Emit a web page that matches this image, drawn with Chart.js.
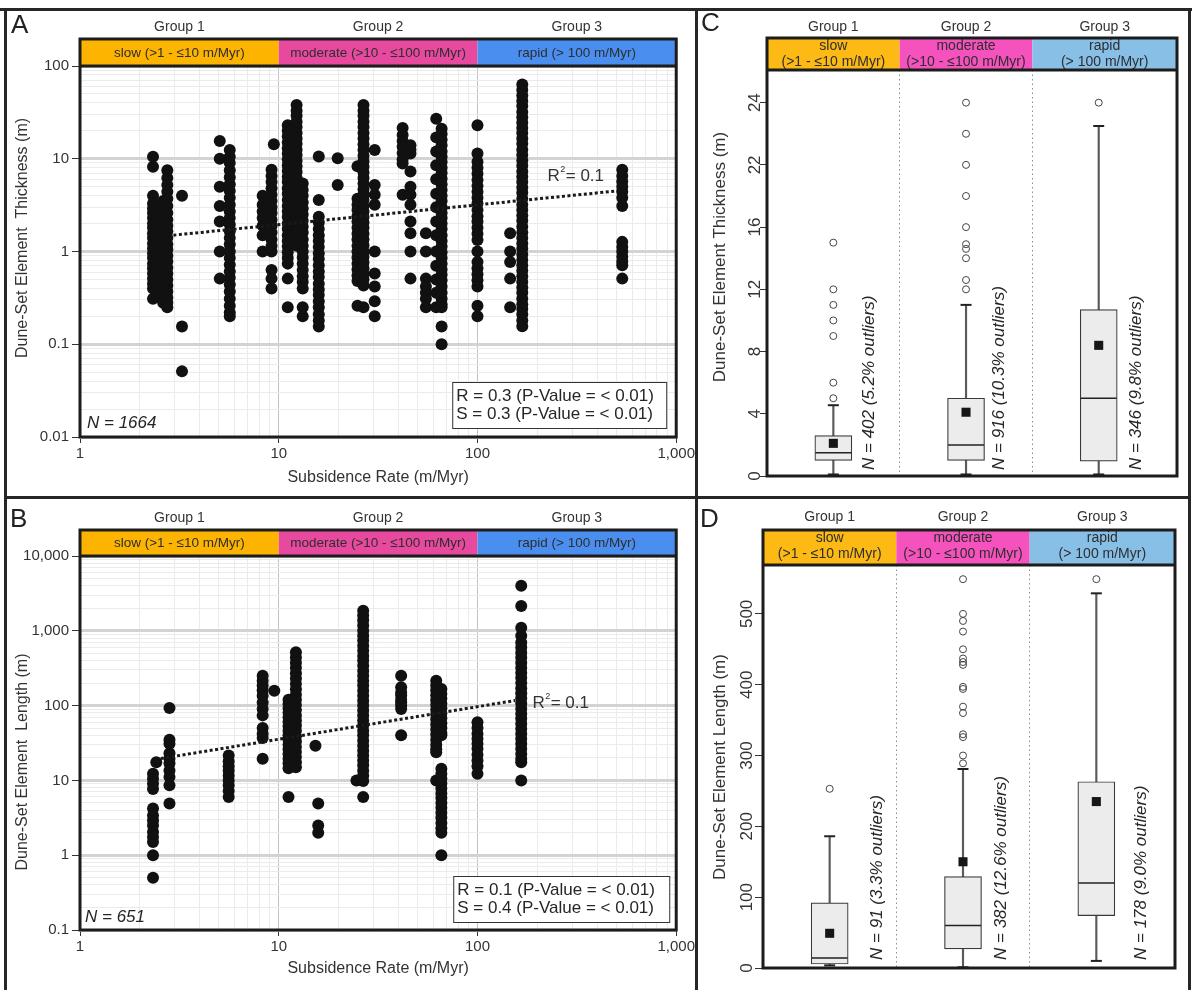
<!DOCTYPE html>
<html>
<head>
<meta charset="utf-8">
<title>Dune-set element size vs subsidence rate</title>
<script src="https://cdn.jsdelivr.net/npm/chart.js@4.4.1/dist/chart.umd.min.js"></script>
<style>
  html, body { margin: 0; padding: 0; background: #fff; }
  #fig { position: relative; width: 1192px; height: 990px; overflow: hidden; background: #fff;
         font-family: "Liberation Sans", Arial, Helvetica, sans-serif; }
  #fig canvas { position: absolute; }
  .rule { position: absolute; background: #262626; }
  .letter { position: absolute; font-size: 26px; line-height: 26px; color: #222; }
</style>
</head>
<body>
<div id="fig">
  <canvas id="panelA" width="697" height="496" style="left:0;top:0"></canvas>
  <canvas id="panelB" width="697" height="494" style="left:0;top:496px"></canvas>
  <canvas id="panelC" width="495" height="497" style="left:697px;top:0"></canvas>
  <canvas id="panelD" width="495" height="493" style="left:697px;top:497px"></canvas>

  <div class="rule" style="left:0;top:8px;width:1192px;height:3px"></div>
  <div class="rule" style="left:4px;top:8px;width:3px;height:982px"></div>
  <div class="rule" style="left:1188px;top:8px;width:3px;height:982px"></div>
  <div class="rule" style="left:695px;top:8px;width:3px;height:982px"></div>
  <div class="rule" style="left:4px;top:496px;width:1187px;height:3px"></div>

  <div class="letter" style="left:11px;top:11px">A</div>
  <div class="letter" style="left:10px;top:505px">B</div>
  <div class="letter" style="left:701px;top:9px">C</div>
  <div class="letter" style="left:700px;top:505px">D</div>
</div>

<script>
// ---------------- shared category data ----------------
const groupNames = ['Group 1', 'Group 2', 'Group 3'];
const bandLabelsWide = ['slow (>1 - \u226410 m/Myr)', 'moderate (>10 - \u2264100 m/Myr)', 'rapid (> 100 m/Myr)'];
const bandNames = ['slow', 'moderate', 'rapid'];
const bandRanges = ['(>1 - \u226410 m/Myr)', '(>10 - \u2264100 m/Myr)', '(> 100 m/Myr)'];

// ---------------- axis ticks ----------------
const rateTicks = [1, 10, 100, 1000];
const rateTickLabels = ['1', '10', '100', '1,000'];
const thickTicks = [0.01, 0.1, 1, 10, 100];
const thickTickLabels = ['0.01', '0.1', '1', '10', '100'];
const lengthTicks = [0.1, 1, 10, 100, 1000, 10000];
const lengthTickLabels = ['0.1', '1', '10', '100', '1,000', '10,000'];
const thickBoxTicks = [0, 4, 8, 12, 16, 20, 24];
const thickBoxTickLabels = ['0', '4', '8', '12', '16', '22', '24'];
const lengthBoxTicks = [0, 100, 200, 300, 400, 500];
const lengthBoxTickLabels = ['0', '100', '200', '300', '400', '500'];

// ---------------- panel A: thickness (m) per subsidence rate (m/Myr) ----------------
const thickRates = [2.33, 2.45, 2.62, 2.75, 3.26, 5.05, 5.67, 8.3, 9.2, 9.45, 11.1, 12.3, 13.2, 15.9,
                    19.8, 24.9, 26.7, 30.4, 42, 46, 55, 62, 66, 100, 146, 168, 535];
const thickColumns = [
  [10.5, 8.2, 4.0, 3.3, 2.9, 2.6, 2.3, 2.0, 1.8, 1.57, 1.4, 1.22, 1.08, 0.95, 0.85, 0.74, 0.66, 0.58, 0.51, 0.45, 0.4, 0.31],
  [3.0, 2.2, 1.6, 1.2, 0.9, 0.7, 0.55, 0.42, 0.35],
  [3.5, 2.4, 1.8, 1.3, 1.0, 0.75, 0.55, 0.45, 0.35, 0.28],
  [7.5, 6.2, 5.2, 4.4, 3.7, 3.1, 2.6, 2.2, 1.9, 1.65, 1.4, 1.2, 1.05, 0.9, 0.78, 0.67, 0.58, 0.5, 0.43, 0.37, 0.32, 0.28, 0.25],
  [4.0, 0.155, 0.051],
  [15.5, 10, 5.0, 3.1, 2.1, 1.0, 0.51],
  [12.4, 10.5, 9.0, 7.5, 6.3, 5.3, 4.5, 3.8, 3.2, 2.7, 2.3, 1.95, 1.65, 1.4, 1.2, 1.0, 0.85, 0.72, 0.61, 0.52, 0.44, 0.37, 0.31, 0.26, 0.22, 0.2],
  [4.0, 3.2, 2.7, 2.3, 1.9, 1.5, 1.0],
  [7.6, 6.5, 5.6, 4.8, 4.1, 3.5, 3.0, 2.6, 2.2, 1.9, 1.6, 1.35, 1.15, 1.0, 0.63, 0.51, 0.4],
  [14.3],
  [23, 20, 17.5, 15, 13, 11.3, 9.8, 8.5, 7.4, 6.4, 5.6, 4.8, 4.2, 3.6, 3.1, 2.7, 2.35, 2.0, 1.75, 1.5, 1.3, 1.13, 0.98, 0.85, 0.74, 0.51, 0.25],
  [38, 33, 29, 25, 22, 19, 16.5, 14.5, 12.5, 11, 9.5, 8.3, 7.2, 6.2, 5.4, 4.7, 4.1, 3.5, 3.0, 2.6, 2.3, 2.0, 1.7, 1.5, 1.3, 1.15],
  [5.4, 4.6, 4.0, 3.4, 2.9, 2.5, 2.15, 1.85, 1.6, 1.35, 1.15, 1.0, 0.86, 0.74, 0.63, 0.54, 0.47, 0.4, 0.25, 0.2],
  [10.6, 3.6, 2.37, 2.05, 1.75, 1.5, 1.3, 1.12, 0.96, 0.83, 0.71, 0.61, 0.53, 0.45, 0.39, 0.34, 0.29, 0.25, 0.21, 0.18, 0.155],
  [10.1, 5.2],
  [8.3, 3.7, 3.2, 2.8, 2.4, 2.1, 1.8, 1.55, 1.35, 1.15, 1.0, 0.86, 0.74, 0.64, 0.55, 0.48, 0.26],
  [38, 33, 29, 25, 22, 19, 16.5, 14.3, 12.4, 10.8, 9.4, 8.2, 7.1, 6.2, 5.4, 4.7, 4.1, 3.6, 3.1, 2.7, 2.35, 2.05, 1.8, 1.55, 1.35, 1.17, 1.0, 0.87, 0.76, 0.66, 0.57, 0.5, 0.43, 0.25],
  [12.4, 5.2, 4.1, 3.2, 1.0, 0.58, 0.42, 0.29, 0.2],
  [21.4, 18, 15.5, 13.5, 11.5, 9.8, 8.9, 4.1],
  [14, 12.5, 11.4, 7.3, 5.0, 4.1, 3.2, 2.1, 1.57, 1.0, 0.51],
  [1.57, 1.0, 0.51, 0.42, 0.36, 0.31, 0.25],
  [27, 17, 12, 8.5, 6.0, 4.2, 3.0, 2.1, 1.5, 1.0, 0.7, 0.5, 0.36, 0.25],
  [21, 18.5, 16, 14, 12, 10.5, 9.2, 8.0, 7.0, 6.1, 5.3, 4.6, 4.0, 3.5, 3.0, 2.6, 2.3, 2.0, 1.75, 1.5, 1.3, 1.13, 0.98, 0.85, 0.74, 0.64, 0.56, 0.49, 0.42, 0.36, 0.31, 0.27, 0.25, 0.155, 0.1],
  [23, 11.4, 9.3, 8.0, 6.9, 5.9, 5.1, 4.4, 3.8, 3.3, 2.8, 2.4, 2.1, 1.8, 1.55, 1.33, 1.0, 0.77, 0.66, 0.57, 0.49, 0.42, 0.26, 0.2],
  [1.57, 1.0, 0.77, 0.51, 0.25],
  [63, 55, 48, 42, 37, 32, 28, 24.5, 21.5, 19, 16.5, 14.5, 12.5, 11, 9.6, 8.4, 7.3, 6.4, 5.6, 4.9, 4.3, 3.7, 3.2, 2.8, 2.45, 2.15, 1.85, 1.6, 1.4, 1.22, 1.07, 0.93, 0.81, 0.71, 0.62, 0.54, 0.47, 0.41, 0.36, 0.31, 0.27, 0.24, 0.21, 0.18, 0.156],
  [7.6, 6.5, 5.7, 5.0, 4.4, 3.8, 3.1, 1.27, 1.12, 1.0, 0.88, 0.78, 0.71, 0.51]
];
const thickTrend = [{ x: 2.95, y: 1.5 }, { x: 505, y: 4.5 }];
const thickStats = ['R = 0.3 (P-Value = < 0.01)', 'S = 0.3 (P-Value = < 0.01)'];

// ---------------- panel B: length (m) per subsidence rate (m/Myr) ----------------
const lengthRates = [2.33, 2.42, 2.82, 5.6, 8.3, 9.5, 11.2, 12.2, 15.3, 15.8, 24.6, 26.6, 41.3, 62, 65.8, 100, 166];
const lengthColumns = [
  [12.3, 10.5, 9.0, 7.7, 4.2, 3.4, 2.9, 2.5, 2.05, 1.75, 1.5, 1.0, 0.5],
  [17.5],
  [93, 35, 31, 23, 19.5, 17, 13.6, 11.1, 8.6, 4.9],
  [21.5, 18, 15.5, 13.5, 11.5, 10, 8.6, 7.2, 6.0],
  [250, 215, 185, 160, 135, 110, 90, 74, 50, 42, 37, 19.5],
  [158],
  [120, 105, 92, 80, 70, 61, 53, 46, 40, 35, 30, 26, 22.5, 19.5, 17, 14.5, 6.0],
  [515, 440, 375, 320, 270, 230, 195, 165, 140, 120, 102, 87, 74, 63, 54, 46, 39, 33, 28, 24, 20.5, 17.5, 15],
  [29],
  [4.9, 2.5, 2.0],
  [10],
  [1850, 1600, 1380, 1180, 1000, 860, 740, 630, 540, 460, 400, 340, 290, 250, 215, 185, 158, 135, 116, 100, 86, 74, 63, 54, 46, 40, 34, 29, 25, 21.5, 18.5, 16, 13.5, 11.5, 9.8, 6.0],
  [250, 176, 150, 136, 120, 111, 100, 90, 40],
  [215, 185, 160, 138, 118, 102, 88, 76, 65, 56, 48, 41, 35, 30, 26, 23.8, 10],
  [167, 144, 124, 107, 92, 79, 68, 58, 50, 43, 40, 14.3, 12.3, 10.6, 9.1, 7.8, 6.7, 5.8, 5.0, 4.3, 3.7, 3.2, 2.7, 2.3, 2.0, 1.0],
  [60, 50, 42, 36, 31, 26.5, 22, 18.5, 15.5, 12.3],
  [4000, 2150, 1100, 860, 700, 600, 510, 440, 375, 320, 275, 235, 200, 170, 146, 125, 107, 91, 78, 67, 57, 49, 42, 36, 31, 26.5, 22.5, 19.5, 17.5, 10]
];
const lengthTrend = [{ x: 2.55, y: 19.6 }, { x: 155, y: 117 }];
const lengthStats = ['R = 0.1 (P-Value = < 0.01)', 'S = 0.4 (P-Value = < 0.01)'];

// ---------------- panel C: thickness box plots per group ----------------
const groupPos = [0.5, 1.5, 2.5];
const thickQ1 = [1.0, 1.0, 0.95];
const thickMedian = [1.5, 2.0, 5.0];
const thickQ3 = [2.6, 5.0, 10.7];
const thickMean = [2.1, 4.1, 8.4];
const thickWhiskerLow = [0.1, 0.1, 0.1];
const thickWhiskerHigh = [4.55, 11.0, 22.5];
const thickOutliers = [
  [5, 6, 9, 10, 11, 12, 15],
  [12, 12.6, 14, 14.6, 14.9, 16, 18, 20, 22, 24],
  [24]
];
const thickCounts = ['N = 402 (5.2% outliers)', 'N = 916 (10.3% outliers)', 'N = 346 (9.8% outliers)'];

// ---------------- panel D: length box plots per group ----------------
const lengthQ1 = [5.6, 27, 74];
const lengthMedian = [14, 60, 120];
const lengthQ3 = [92, 129, 263];
const lengthMean = [49, 150, 235];
const lengthWhiskerLow = [3.7, 1, 10];
const lengthWhiskerHigh = [186, 281, 529];
const lengthOutliers = [
  [253],
  [289, 300, 326, 330, 360, 369, 394, 397, 428, 432, 437, 450, 475, 490, 500, 549],
  [549]
];
const lengthCounts = ['N = 91 (3.3% outliers)', 'N = 382 (12.6% outliers)', 'N = 178 (9.0% outliers)'];

// ---------------- helpers ----------------
const FONT = '"Liberation Sans", Arial, Helvetica, sans-serif';
Chart.defaults.font.family = FONT;
Chart.defaults.color = '#333';

function logGrid(decades) {
  const out = [];
  for (let i = 0; i < decades.length - 1; i++) {
    for (let m = 1; m < 10; m++) out.push(Number((decades[i] * m).toPrecision(6)));
  }
  out.push(decades[decades.length - 1]);
  return out;
}
function decadeIndex(v, list) { return list.findIndex(d => Math.abs(v - d) / d < 1e-6); }
function columnPoints(rates, cols) {
  const pts = [];
  rates.forEach((x, i) => cols[i].forEach(y => pts.push({ x, y })));
  return pts;
}

// Header bands, frame, titles and annotation text for each panel
const decorPlugin = {
  id: 'decor',
  afterDraw(chart, _args, o) {
    const ctx = chart.ctx, a = chart.chartArea;
    const xs = chart.scales.x, ys = chart.scales.y;
    const hTop = a.top - o.headerH;
    ctx.save();

    // coloured speed bands + group names
    for (let i = 0; i < o.bandColors.length; i++) {
      const x0 = xs.getPixelForValue(o.bandEdges[i]);
      const x1 = xs.getPixelForValue(o.bandEdges[i + 1]);
      ctx.fillStyle = o.bandColors[i];
      ctx.fillRect(x0, hTop, x1 - x0, o.headerH);
      const cx = (x0 + x1) / 2;
      ctx.fillStyle = '#2e2e2e';
      ctx.textAlign = 'center';
      ctx.textBaseline = 'middle';
      ctx.font = o.bandSize + 'px ' + FONT;
      o.bandText[i].forEach((t, k) => ctx.fillText(t, cx, hTop + o.bandLineY[k]));
      ctx.fillStyle = '#333';
      ctx.font = o.groupSize + 'px ' + FONT;
      ctx.fillText(groupNames[i], cx, o.groupY);
    }

    // thick frame around header and plot
    ctx.strokeStyle = '#1c1c1c';
    ctx.lineWidth = 3;
    ctx.strokeRect(a.left, hTop, a.right - a.left, a.bottom - hTop);
    ctx.beginPath();
    ctx.moveTo(a.left, a.top);
    ctx.lineTo(a.right, a.top);
    ctx.stroke();

    // vertical axis title
    ctx.save();
    ctx.translate(o.yTitle.x, o.yTitle.y);
    ctx.rotate(-Math.PI / 2);
    ctx.fillStyle = '#333';
    ctx.textAlign = 'center';
    ctx.textBaseline = 'middle';
    ctx.font = o.yTitle.size + 'px ' + FONT;
    ctx.fillText(o.yTitle.text, 0, 0);
    ctx.restore();

    // rotated tick labels (box-plot panels)
    if (o.rotTicks) {
      ctx.fillStyle = '#333';
      ctx.font = o.rotTicks.size + 'px ' + FONT;
      ctx.textAlign = 'center';
      ctx.textBaseline = 'middle';
      ys.ticks.forEach(t => {
        const k = o.rotTicks.values.indexOf(t.value);
        if (k < 0) return;
        ctx.save();
        ctx.translate(a.left - o.rotTicks.offset, ys.getPixelForValue(t.value));
        ctx.rotate(-Math.PI / 2);
        ctx.fillText(o.rotTicks.labels[k], 0, 0);
        ctx.restore();
      });
    }

    // rotated sample-size notes (box-plot panels)
    if (o.counts) {
      ctx.fillStyle = '#262626';
      ctx.font = 'italic 17px ' + FONT;
      ctx.textAlign = 'left';
      ctx.textBaseline = 'middle';
      o.counts.text.forEach((t, i) => {
        ctx.save();
        ctx.translate(xs.getPixelForValue(o.counts.x[i]), a.bottom - o.counts.lift);
        ctx.rotate(-Math.PI / 2);
        ctx.fillText(t, 0, 0);
        ctx.restore();
      });
    }

    // sample count (scatter panels)
    if (o.nText) {
      ctx.fillStyle = '#262626';
      ctx.font = 'italic 17px ' + FONT;
      ctx.textAlign = 'left';
      ctx.textBaseline = 'middle';
      ctx.fillText(o.nText.text, a.left + o.nText.dx, a.bottom + o.nText.dy);
    }

    // correlation box (scatter panels)
    if (o.stats) {
      const s = o.stats;
      const bx = a.right - s.dRight - s.w, by = a.bottom - s.dBottom - s.h;
      ctx.fillStyle = '#fff';
      ctx.fillRect(bx, by, s.w, s.h);
      ctx.strokeStyle = '#333';
      ctx.lineWidth = 1;
      ctx.strokeRect(bx + 0.5, by + 0.5, s.w, s.h);
      ctx.fillStyle = '#262626';
      ctx.font = '17px ' + FONT;
      ctx.textAlign = 'left';
      ctx.textBaseline = 'middle';
      ctx.fillText(s.lines[0], bx + 4, by + 14.5);
      ctx.fillText(s.lines[1], bx + 4, by + 32.5);
    }

    // R-squared label of the trend line
    if (o.r2) {
      const px = xs.getPixelForValue(o.r2.x), py = ys.getPixelForValue(o.r2.y);
      ctx.fillStyle = '#333';
      ctx.textAlign = 'left';
      ctx.textBaseline = 'middle';
      ctx.font = '17px ' + FONT;
      ctx.fillText('R', px, py);
      const w = ctx.measureText('R').width;
      ctx.font = '9px ' + FONT;
      ctx.fillText('2', px + w + 0.5, py - 7);
      ctx.font = '17px ' + FONT;
      ctx.fillText('= 0.1', px + w + 6, py);
    }
    ctx.restore();
  }
};

function logAxis(o) {
  const major = c => c.tick && decadeIndex(c.tick.value, o.decades) >= 0;
  return {
    type: 'logarithmic', position: o.position, min: o.min, max: o.max,
    afterBuildTicks: s => { s.ticks = logGrid(o.decades).map(v => ({ value: v })); },
    afterFit: s => { if (o.width) s.width = o.width; if (o.height) s.height = o.height; },
    ticks: {
      autoSkip: false, maxRotation: 0, minRotation: 0, padding: o.pad, color: '#333',
      font: { size: 15 },
      callback: v => { const k = decadeIndex(v, o.decades); return k < 0 ? '' : o.labels[k]; }
    },
    grid: {
      color: c => major(c) ? o.majorColor : '#ebebeb',
      lineWidth: c => major(c) ? o.majorWidth : 1,
      tickLength: o.tickLength,
      tickColor: c => major(c) ? '#333' : 'rgba(0,0,0,0)',
      tickWidth: 1
    },
    border: { display: false },
    title: o.title
      ? { display: true, text: o.title, color: '#333', font: { size: 16 }, padding: 0 }
      : { display: false }
  };
}

function scatterPanel(id, o) {
  return new Chart(document.getElementById(id), {
    type: 'scatter',
    data: {
      datasets: [
        { data: o.trend, showLine: true, borderColor: '#1a1a1a', borderWidth: 3,
          borderDash: [3, 2.5], pointRadius: 0, order: 0 },
        { data: columnPoints(o.rates, o.cols), pointRadius: 6, pointHoverRadius: 6,
          backgroundColor: '#111', borderWidth: 0, order: 1 }
      ]
    },
    options: {
      responsive: false, animation: false, events: [],
      layout: { autoPadding: false, padding: o.padding },
      plugins: { legend: { display: false }, tooltip: { enabled: false }, decor: o.decor },
      scales: {
        x: logAxis({ position: 'bottom', min: 1, max: 1000, decades: rateTicks, labels: rateTickLabels,
                     height: o.xHeight, pad: 2, tickLength: 6, majorColor: '#c2c2c2', majorWidth: 1,
                     title: 'Subsidence Rate (m/Myr)' }),
        y: logAxis({ position: 'left', min: o.yTicks[0], max: o.yTicks[o.yTicks.length - 1],
                     decades: o.yTicks, labels: o.yLabels, width: 67, pad: 3, tickLength: 8,
                     majorColor: '#d3d3d3', majorWidth: 3 })
      }
    },
    plugins: [decorPlugin]
  });
}

function boxPanel(id, o) {
  const outlierPts = [];
  o.outliers.forEach((list, i) => list.forEach(y => outlierPts.push({ x: groupPos[i], y })));
  const capPts = [];
  groupPos.forEach((x, i) => { capPts.push({ x, y: o.whiskerHigh[i] }); capPts.push({ x, y: o.whiskerLow[i] }); });
  return new Chart(document.getElementById(id), {
    type: 'scatter',
    data: {
      datasets: [
        { data: groupPos.map((x, i) => ({ x, y: o.mean[i] })), pointStyle: 'rect', pointRadius: 6.4,
          backgroundColor: '#161616', borderWidth: 0, order: 0 },
        { data: groupPos.map((x, i) => ({ x, y: o.median[i] })), pointStyle: 'line', pointRadius: 18,
          borderColor: '#222', borderWidth: 1.5, order: 1 },
        { data: outlierPts, pointStyle: 'circle', pointRadius: 3.5, backgroundColor: 'rgba(0,0,0,0)',
          borderColor: '#444', borderWidth: 1, order: 2 },
        { data: capPts, pointStyle: 'line', pointRadius: 5.5, borderColor: '#222', borderWidth: 2, order: 3 },
        { type: 'bar', data: groupPos.map((x, i) => ({ x, y: [o.q1[i], o.q3[i]] })), barThickness: 37,
          backgroundColor: '#ececec', borderColor: '#3a3a3a', borderWidth: 1.2, borderSkipped: false,
          grouped: false, order: 4 },
        { type: 'bar', data: groupPos.map((x, i) => ({ x, y: [o.whiskerLow[i], o.whiskerHigh[i]] })),
          barThickness: 1.5, backgroundColor: '#5a5a5a', borderWidth: 0, grouped: false, order: 5 }
      ]
    },
    options: {
      responsive: false, animation: false, events: [],
      layout: { autoPadding: false, padding: o.padding },
      plugins: { legend: { display: false }, tooltip: { enabled: false }, decor: o.decor },
      scales: {
        x: {
          type: 'linear', min: 0, max: 3.09, offset: false,
          afterBuildTicks: s => { s.ticks = [{ value: 1 }, { value: 2 }]; },
          afterFit: s => { s.height = 0; },
          ticks: { display: false },
          grid: { color: '#8c8c8c', lineWidth: 1, drawTicks: false, offset: false },
          border: { display: false, dash: [1.5, 3] }
        },
        y: {
          type: 'linear', min: 0, max: o.yMax,
          afterBuildTicks: s => { s.ticks = o.ticks.map(v => ({ value: v })); },
          afterFit: s => { s.width = o.yWidth; },
          ticks: { display: false },
          grid: { drawOnChartArea: false, drawTicks: true, tickLength: o.tickLength,
                  tickColor: '#333', tickWidth: 1 },
          border: { display: false }
        }
      }
    },
    plugins: [decorPlugin]
  });
}

const wideBandColors = ['#fdb400', '#e6499e', '#4a8ff0'];
const paleBandColors = ['#fdb914', '#f552be', '#88bfe7'];

// ---------------- A ----------------
scatterPanel('panelA', {
  rates: thickRates, cols: thickColumns, trend: thickTrend,
  yTicks: thickTicks, yLabels: thickTickLabels,
  padding: { left: 13, top: 66, right: 20, bottom: 9 }, xHeight: 50,
  decor: {
    headerH: 27, groupY: 27, groupSize: 14, bandSize: 13.5, bandLineY: [14],
    bandEdges: rateTicks, bandColors: wideBandColors, bandText: bandLabelsWide.map(t => [t]),
    yTitle: { text: 'Dune-Set Element  Thickness (m)', x: 22.6, y: 238, size: 16 },
    nText: { text: 'N = 1664', dx: 7, dy: -14 },
    stats: { lines: thickStats, w: 214, h: 46, dRight: 10, dBottom: 9 },
    r2: { x: 225, y: 6.5 }
  }
});

// ---------------- B ----------------
scatterPanel('panelB', {
  rates: lengthRates, cols: lengthColumns, trend: lengthTrend,
  yTicks: lengthTicks, yLabels: lengthTickLabels,
  padding: { left: 13, top: 60, right: 20, bottom: 12 }, xHeight: 48,
  decor: {
    headerH: 26, groupY: 22, groupSize: 14, bandSize: 13.5, bandLineY: [13.5],
    bandEdges: rateTicks, bandColors: wideBandColors, bandText: bandLabelsWide.map(t => [t]),
    yTitle: { text: 'Dune-Set Element  Length (m)', x: 22.6, y: 266, size: 16 },
    nText: { text: 'N = 651', dx: 5, dy: -13 },
    stats: { lines: lengthStats, w: 216, h: 46, dRight: 7, dBottom: 8 },
    r2: { x: 189, y: 106 }
  }
});

// ---------------- C ----------------
boxPanel('panelC', {
  q1: thickQ1, median: thickMedian, q3: thickQ3, mean: thickMean,
  whiskerLow: thickWhiskerLow, whiskerHigh: thickWhiskerHigh, outliers: thickOutliers,
  ticks: thickBoxTicks, yMax: 26.1, yWidth: 57, tickLength: 7,
  padding: { left: 13, top: 70, right: 15, bottom: 21 },
  decor: {
    headerH: 32, groupY: 27, groupSize: 14, bandSize: 14, bandLineY: [8.5, 24],
    bandEdges: [0, 1, 2, 3.09], bandColors: paleBandColors,
    bandText: bandNames.map((n, i) => [n, bandRanges[i]]),
    yTitle: { text: 'Dune-Set Element Thickness (m)', x: 23.5, y: 257, size: 17 },
    rotTicks: { values: thickBoxTicks, labels: thickBoxTickLabels, offset: 12, size: 17 },
    counts: { text: thickCounts, x: [0.77, 1.75, 2.78], lift: 6 }
  }
});

// ---------------- D ----------------
boxPanel('panelD', {
  q1: lengthQ1, median: lengthMedian, q3: lengthQ3, mean: lengthMean,
  whiskerLow: lengthWhiskerLow, whiskerHigh: lengthWhiskerHigh, outliers: lengthOutliers,
  ticks: lengthBoxTicks, yMax: 569, yWidth: 53, tickLength: 8,
  padding: { left: 13, top: 68, right: 17, bottom: 22 },
  decor: {
    headerH: 35, groupY: 20, groupSize: 14, bandSize: 14, bandLineY: [8.5, 24.5],
    bandEdges: [0, 1, 2, 3.09], bandColors: paleBandColors,
    bandText: bandNames.map((n, i) => [n, bandRanges[i]]),
    yTitle: { text: 'Dune-Set Element Length (m)', x: 23, y: 270, size: 17 },
    rotTicks: { values: lengthBoxTicks, labels: lengthBoxTickLabels, offset: 15.5, size: 17 },
    counts: { text: lengthCounts, x: [0.86, 1.79, 2.84], lift: 8 }
  }
});
</script>
</body>
</html>
